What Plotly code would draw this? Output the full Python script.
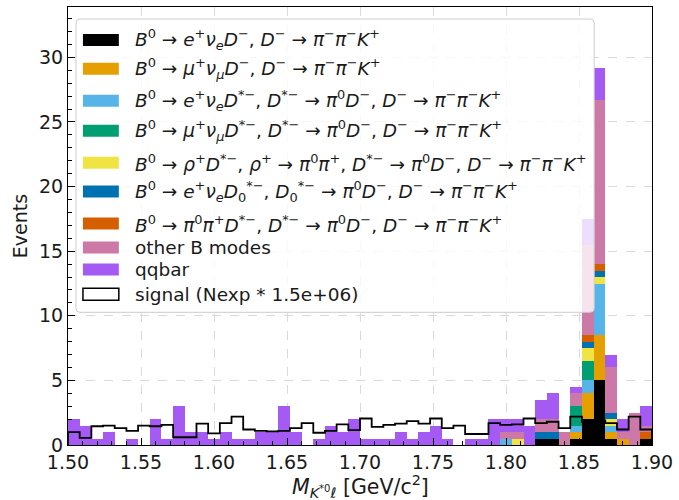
import numpy as np
import plotly.graph_objects as go

# ---- binning of the K*0 l invariant mass --------------------------------
X_MIN, X_MAX, N_BINS = 1.50, 1.90, 50
X_TICKS = [1.50, 1.55, 1.60, 1.65, 1.70, 1.75, 1.80, 1.85, 1.90]
Y_TICKS = [0, 5, 10, 15, 20, 25, 30]

# ---- events per bin, one list per component (stacked in this order) -----
e_nu_D = [0, 0, 0, 0, 0, 0, 0, 0, 0, 0,
          0, 0, 0, 0, 0, 0, 0, 0, 0, 0,
          0, 0, 0, 0, 0, 0, 0, 0, 0, 0,
          0, 0, 0, 0, 0, 0, 0, 0, 0, 0,
          0.5, 0.5, 0, 0.5, 2.0, 5.0, 0.5, 0, 0, 0.5]
mu_nu_D = [0, 0, 0, 0, 0, 0, 0, 0, 0, 0,
           0, 0, 0, 0, 0, 0, 0, 0, 0, 0,
           0, 0, 0, 0, 0, 0, 0, 0, 0, 0,
           0, 0, 0, 0, 0, 0, 0, 0, 0, 0,
           0, 0, 0, 0.5, 2.0, 3.5, 0.5, 0.5, 0, 0]
e_nu_Dst = [0, 0, 0, 0, 0, 0, 0, 0, 0, 0,
            0, 0, 0, 0, 0, 0, 0, 0, 0, 0,
            0, 0, 0, 0, 0, 0, 0, 0, 0, 0,
            0, 0, 0, 0, 0, 0, 0, 0.5, 0, 0,
            0, 0, 0, 0.5, 1.0, 4.0, 0.5, 0, 0, 0]
mu_nu_Dst = [0, 0, 0, 0, 0, 0, 0, 0, 0, 0,
             0, 0, 0, 0, 0, 0, 0, 0, 0, 0,
             0, 0, 0, 0, 0, 0, 0, 0, 0, 0,
             0, 0, 0, 0, 0, 0, 0, 0, 0, 0,
             0, 0, 0, 1.5, 1.5, 0, 0, 0, 0, 0]
rho_Dst = [0, 0, 0, 0, 0, 0, 0, 0, 0, 0,
           0, 0, 0, 0, 0, 0, 0, 0, 0, 0,
           0, 0, 0, 0, 0, 0, 0, 0, 0, 0,
           0, 0, 0, 0, 0, 0, 0, 0, 0.5, 0,
           0, 0, 0, 0, 1.0, 0.5, 0.5, 0, 0, 0]
e_nu_D0st = [0, 0, 0, 0, 0, 0, 0, 0, 0, 0,
             0, 0, 0, 0, 0, 0, 0, 0, 0, 0,
             0, 0, 0, 0, 0, 0, 0, 0, 0, 0,
             0, 0, 0, 0, 0, 0, 0, 0, 0, 0,
             0.5, 0.5, 0, 0, 0.5, 0.5, 0.5, 0, 0, 0]
pi_pi_Dst = [0, 0, 0, 0, 0, 0, 0, 0, 0, 0,
             0, 0, 0, 0, 0, 0, 0, 0, 0, 0,
             0, 0, 0, 0, 0, 0, 0, 0, 0, 0,
             0, 0, 0, 0, 0, 0, 0, 0, 0, 0,
             0, 0, 0, 0, 0.5, 0.5, 0, 0, 0, 0.5]
other_B = [0, 0, 0, 0, 0, 0, 0, 0, 0, 0,
           0, 0, 0, 0, 0, 0, 0, 0, 0, 0,
           0, 0, 0, 0, 0, 0, 0, 0, 0, 0,
           0, 0, 0, 0, 0, 0, 0, 0.5, 0.5, 0,
           1.0, 1.0, 1.0, 1.0, 7.0, 12.7, 3.5, 0.5, 2.5, 0.5]
qqbar = [2.0, 1.5, 0.5, 1.0, 0, 0.5, 0, 2.0, 0.5, 3.0,
         1.0, 1.0, 0.5, 1.0, 0.5, 0.5, 1.0, 1.0, 3.0, 1.0,
         0, 0.5, 1.5, 1.0, 2.0, 0.5, 0.5, 0.5, 1.0, 0.5,
         1.0, 1.5, 0.5, 0, 0.5, 0.5, 2.0, 1.0, 1.0, 1.5,
         1.5, 2.0, 0, 0.5, 2.0, 2.5, 1.0, 1.0, 0, 1.5]
# scaled signal (Nexp * 1.5e+06), drawn as an outline
signal = [1.0, 0.55, 1.45, 1.5, 1.3, 1.1, 1.5, 1.45, 1.55, 0.6,
          0.6, 1.65, 0.9, 1.7, 2.2, 1.2, 1.1, 1.05, 1.1, 1.3,
          1.7, 0.95, 1.1, 1.6, 1.15, 2.05, 1.4, 1.55, 1.65, 1.85,
          1.65, 2.05, 1.3, 1.5, 0.85, 0.85, 1.7, 1.55, 1.6, 2.05,
          1.7, 1.8, 1.3, 2.2, 1.8, 1.9, 1.7, 1.2, 2.2, 1.2]

# ---- legend text (mathtext-like HTML) -----------------------------------
AR = " \u2192 "
def it(s):
    return f"<i>{s}</i>"
def sup(s):
    return f"<sup>{s}</sup>"
def sub(s):
    return f"<sub>{s}</sub>"

B0 = it("B") + sup("0")
Dm = it("D") + sup("\u2212")
Dst = it("D") + sup("*\u2212")
D0st = it("D") + sub("0") + sup("*\u2212")
pim, pip, pi0 = it("\u03c0") + sup("\u2212"), it("\u03c0") + sup("+"), it("\u03c0") + sup("0")
Kp = it("K") + sup("+")
ep, mup, rhop = it("e") + sup("+"), it("\u03bc") + sup("+"), it("\u03c1") + sup("+")
nue, numu = it("\u03bd") + sub(it("e")), it("\u03bd") + sub(it("\u03bc"))
D_chain = f"{Dm}{AR}{pim}{pim}{Kp}"
Dst_chain = f"{Dst}{AR}{pi0}{Dm}, {D_chain}"

labels = [
    f"{B0}{AR}{ep}{nue}{Dm}, {D_chain}",
    f"{B0}{AR}{mup}{numu}{Dm}, {D_chain}",
    f"{B0}{AR}{ep}{nue}{Dst}, {Dst_chain}",
    f"{B0}{AR}{mup}{numu}{Dst}, {Dst_chain}",
    f"{B0}{AR}{rhop}{Dst}, {rhop}{AR}{pi0}{pip}, {Dst_chain}",
    f"{B0}{AR}{ep}{nue}{D0st}, {D0st}{AR}{pi0}{Dm}, {D_chain}",
    f"{B0}{AR}{pi0}{pip}{Dst}, {Dst_chain}",
    "other B modes",
    "qqbar",
]
signal_label = "signal (Nexp * 1.5e+06)"
x_title = it("M") + sub(it("K") + sup("*0") + it("\u2113")) + " [GeV/c" + sup("2") + "]"

components = [e_nu_D, mu_nu_D, e_nu_Dst, mu_nu_Dst, rho_Dst,
              e_nu_D0st, pi_pi_Dst, other_B, qqbar]
colors = ["#000000", "#E69F00", "#56B4E9", "#009E73", "#F0E442",
          "#0072B2", "#D55E00", "#CC79A7", "#A55AF4"]

edges = np.linspace(X_MIN, X_MAX, N_BINS + 1)
centers = 0.5 * (edges[:-1] + edges[1:])
width = edges[1] - edges[0]

fig = go.Figure()
for vals, col, lab in zip(components, colors, labels):
    fig.add_trace(go.Bar(x=centers, y=vals, width=width, name=lab,
                         marker=dict(color=col, line=dict(width=0)),
                         showlegend=False))

sx = [edges[0]] + list(edges) + [edges[-1]]
sy = [0] + list(signal) + [signal[-1], 0]
fig.add_trace(go.Scatter(x=sx, y=sy, mode="lines", line_shape="hv",
                         line=dict(color="black", width=1.8),
                         name=signal_label, showlegend=False))

# ---- figure geometry ------------------------------------------------------
W, H = 679, 500
L, R, T, B = 68, 25, 6, 55
PW, PH = W - L - R, H - T - B
Y_MAX = 33.9
FONT = "DejaVu Sans"
INK = "#1a1a1a"

def px(xp):
    return (xp - L) / PW
def py(yp):
    return (H - B - yp) / PH

# ---- hand-built legend box (drawn over the bars) -------------------------
shapes = []
bx0, by0, bx1, by1, rad = 76, 18, 596, 312, 4
rx, ry = rad / PW, rad / PH
X0, X1, Y0, Y1 = px(bx0), px(bx1), py(by1), py(by0)
path = (f"M{X0 + rx},{Y1} L{X1 - rx},{Y1} Q{X1},{Y1} {X1},{Y1 - ry} "
        f"L{X1},{Y0 + ry} Q{X1},{Y0} {X1 - rx},{Y0} L{X0 + rx},{Y0} "
        f"Q{X0},{Y0} {X0},{Y0 + ry} L{X0},{Y1 - ry} Q{X0},{Y1} {X0 + rx},{Y1} Z")
shapes.append(dict(type="path", path=path, xref="paper", yref="paper",
                   fillcolor="rgba(255,255,255,0.8)",
                   line=dict(color="#cccccc", width=1), layer="above"))

row_y = [39, 68, 100, 130, 162, 191, 223, 247, 269, 294]
annotations = []
entries = list(zip(labels, colors)) + [(signal_label, None)]
for (lab, col), yr in zip(entries, row_y):
    if col is None:
        fill, lc, lw = "white", "black", 1.5
    else:
        fill, lc, lw = col, col, 0
    shapes.append(dict(type="rect", xref="paper", yref="paper",
                       x0=px(83), x1=px(119), y0=py(yr + 6), y1=py(yr - 6),
                       fillcolor=fill, line=dict(color=lc, width=lw),
                       layer="above"))
    annotations.append(dict(x=px(133), y=py(yr), xref="paper", yref="paper",
                            text=lab, showarrow=False, xanchor="left",
                            yanchor="middle",
                            font=dict(family=FONT, size=18.5, color=INK)))

# x-axis title placed just under the tick labels
annotations.append(dict(x=0.5, y=py(487), xref="paper", yref="paper",
                        text=x_title, showarrow=False, xanchor="center",
                        yanchor="middle",
                        font=dict(family=FONT, size=20.5, color=INK)))

axis_common = dict(showline=True, mirror=True, linecolor="black", linewidth=1,
                   ticks="inside", ticklen=7, tickcolor="black",
                   showgrid=True, gridcolor="#d9d9d9", griddash="dash",
                   gridwidth=1, zeroline=False,
                   tickfont=dict(family=FONT, size=19, color=INK))

fig.update_layout(
    width=W, height=H,
    margin=dict(l=L, r=R, t=T, b=B),
    paper_bgcolor="white", plot_bgcolor="white",
    barmode="stack", bargap=0,
    shapes=shapes, annotations=annotations,
    xaxis=dict(range=[X_MIN, X_MAX], tickvals=X_TICKS,
               ticktext=[f"{v:.2f}" for v in X_TICKS],
               minor=dict(ticks="inside", ticklen=4, dtick=0.01,
                          tickcolor="black", showgrid=False),
               **axis_common),
    yaxis=dict(range=[0, Y_MAX], tickvals=Y_TICKS,
               minor=dict(ticks="inside", ticklen=4, dtick=1,
                          tickcolor="black", showgrid=False),
               title=dict(text="Events",
                          font=dict(family=FONT, size=19, color=INK),
                          standoff=6),
               **axis_common),
    font=dict(family=FONT),
)

fig.write_html("out.html")
